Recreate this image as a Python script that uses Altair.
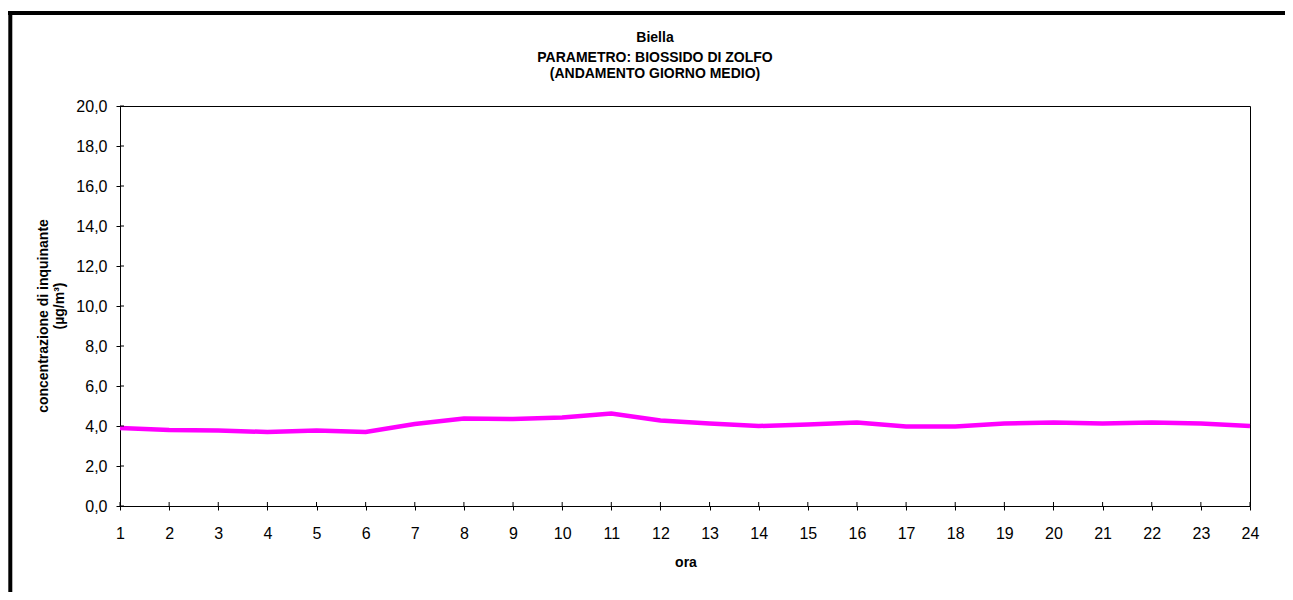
import altair as alt
import pandas as pd

hours = list(range(1, 25))
so2 = [3.9, 3.8, 3.78, 3.7, 3.77, 3.7, 4.1, 4.37, 4.35, 4.43, 4.63, 4.27,
       4.13, 4.0, 4.08, 4.17, 3.97, 3.97, 4.12, 4.18, 4.13, 4.18, 4.13, 4.0]
y_ticks = [0, 2, 4, 6, 8, 10, 12, 14, 16, 18, 20]
title_lines = ["Biella", "PARAMETRO: BIOSSIDO DI ZOLFO", "(ANDAMENTO GIORNO MEDIO)"]
y_title = ["concentrazione di inquinante", "(µg/m³)"]
x_title = "ora"

FONT = "Liberation Sans"

df = pd.DataFrame({"ora": hours, "val": so2})
ytick_df = pd.DataFrame({"t": y_ticks})
xtick_df = pd.DataFrame({"h": hours})
one = pd.DataFrame({"a": [0]})

xscale = alt.Scale(domain=[1, 24], nice=False, zero=False)
yscale = alt.Scale(domain=[0, 20], nice=False)

xaxis = alt.Axis(values=hours, format="d", title=None, grid=False,
                 tickSize=4, labelPadding=15.5, labelFontSize=16,
                 labelOverlap=False, labelFlush=False,
                 labelColor="#000", tickColor="#000", domainColor="#000",
                 labelFont=FONT)
yaxis = alt.Axis(values=y_ticks, labelExpr="replace(format(datum.value, '.1f'), '.', ',')",
                 title=None, grid=False, tickSize=4, labelPadding=9,
                 labelOverlap=False, labelFlush=False,
                 labelFontSize=16, labelColor="#000", tickColor="#000",
                 domainColor="#000", labelFont=FONT)

line = alt.Chart(df).mark_line(color="#FF00FF", strokeWidth=4.5).encode(
    x=alt.X("ora:Q", scale=xscale, axis=xaxis),
    y=alt.Y("val:Q", scale=yscale, axis=yaxis),
)

ytk = alt.Chart(ytick_df).mark_rule(color="#000", strokeWidth=1).encode(
    y=alt.Y("t:Q", scale=yscale, axis=yaxis), x=alt.value(0), x2=alt.value(4))
xtk = alt.Chart(xtick_df).mark_rule(color="#000", strokeWidth=1).encode(
    x=alt.X("h:Q", scale=xscale, axis=xaxis), y=alt.value(400), y2=alt.value(396))

# chart title lines
title_df = pd.DataFrame({"txt": title_lines, "yy": [-68, -48, -32.5]})
title_txt = alt.Chart(title_df).mark_text(
    font=FONT, fontSize=14, fontWeight="bold", color="#000",
    align="center", baseline="middle").encode(
    text="txt:N", x=alt.value(535), y=alt.Y("yy:Q", scale=None))

# axis titles
ytitle_df = pd.DataFrame({"txt": y_title, "xx": [-76, -60], "yy": [210, 200]})
ytitle_txt = alt.Chart(ytitle_df).mark_text(
    font=FONT, fontSize=14, fontWeight="bold", color="#000", angle=270,
    align="center", baseline="middle").encode(
    text="txt:N", x=alt.X("xx:Q", scale=None), y=alt.Y("yy:Q", scale=None))

xtitle_txt = alt.Chart(pd.DataFrame({"txt": [x_title]})).mark_text(
    font=FONT, fontSize=14, fontWeight="bold", color="#000",
    align="center", baseline="middle").encode(
    text="txt:N", x=alt.value(566), y=alt.value(457))

frame_left = alt.Chart(one).mark_rule(color="#000", strokeWidth=4).encode(
    x=alt.value(-109.7), y=alt.value(-95), y2=alt.value(500))
frame_top = alt.Chart(one).mark_rule(color="#000", strokeWidth=4).encode(
    x=alt.value(-112), x2=alt.value(1170), y=alt.value(-93))

chart = alt.layer(line, ytk, xtk, title_txt, ytitle_txt, xtitle_txt,
                  frame_left, frame_top).properties(
    width=1130, height=400,
    background="white",
    autosize=alt.AutoSizeParams(type="none"),
    padding={"left": 112, "top": 98, "right": 35, "bottom": 86},
).configure_view(stroke="#000", strokeWidth=1)

chart.save("out.html", embed_options={"renderer": "svg", "actions": False})
